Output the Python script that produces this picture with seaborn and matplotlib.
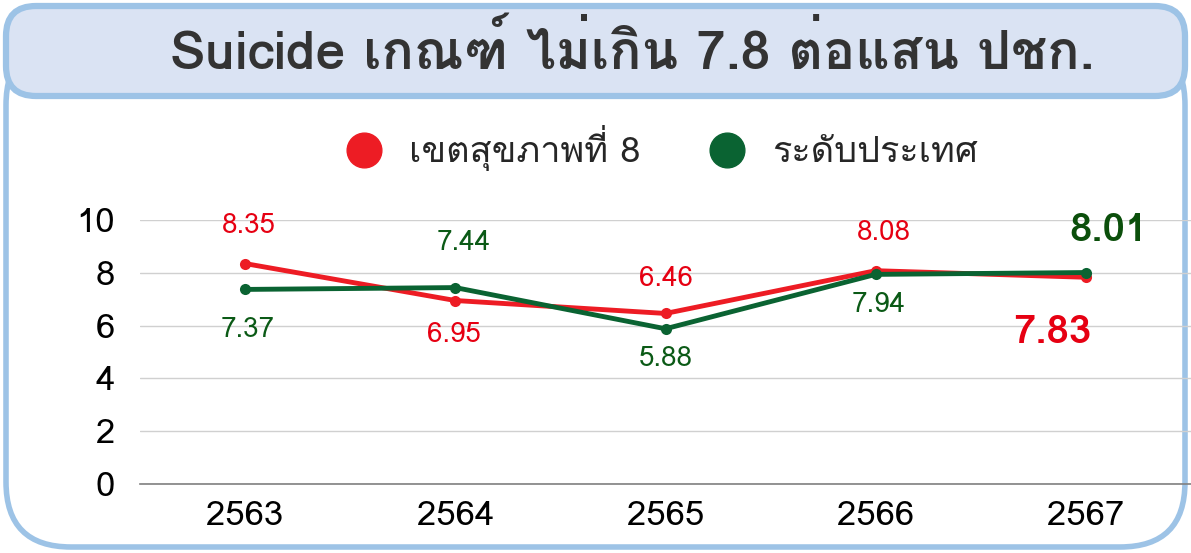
import pandas as pd
import numpy as np
import matplotlib
matplotlib.use("Agg")
import matplotlib.pyplot as plt
import seaborn as sns
from matplotlib import font_manager, ft2font
from matplotlib.patches import FancyBboxPatch
from matplotlib.lines import Line2D

years = ["2563", "2564", "2565", "2566", "2567"]
region8 = [8.35, 6.95, 6.46, 8.08, 7.83]
national = [7.37, 7.44, 5.88, 7.94, 8.01]
series_names = ["เขตสุขภาพที่ 8", "ระดับประเทศ"]
title_text = "Suicide เกณฑ์ ไม่เกิน 7.8 ต่อแสน ปชก."

RED = "#ED1C24"
GREEN = "#0A6332"
RED_TXT = "#E60012"
GREEN_TXT = "#0B5A16"


def find_thai_family():
    for f in font_manager.fontManager.ttflist:
        try:
            if 0x0E01 in ft2font.FT2Font(f.fname).get_charmap():
                return f.name
        except Exception:
            pass
    return None


sns.set_theme(style="white")
thai = find_thai_family()
families = ([thai] if thai else []) + ["DejaVu Sans"]
plt.rcParams["font.family"] = families

df = pd.DataFrame({
    "year": years * 2,
    "rate": region8 + national,
    "group": [series_names[0]] * 5 + [series_names[1]] * 5,
})

fig = plt.figure(figsize=(11.91, 5.53), dpi=100)

# background panels drawn in pixel coordinates
bg = fig.add_axes([0, 0, 1, 1], zorder=0)
bg.set_xlim(0, 1191)
bg.set_ylim(553, 0)
bg.axis("off")
bg.add_patch(FancyBboxPatch((6, 40), 1179, 507,
                            boxstyle="round,pad=0,rounding_size=65",
                            facecolor="white", edgecolor="#9DC3E6", lw=4))
bg.add_patch(FancyBboxPatch((6, 6), 1179, 90,
                            boxstyle="round,pad=0,rounding_size=30",
                            facecolor="#DAE3F3", edgecolor="#9DC3E6", lw=4.5))
bg.text(632, 52, title_text, ha="center", va="center", fontsize=38.5,
        fontweight="bold", color="#333333")

ax = fig.add_axes([140 / 1191, 1 - 484 / 553, 1 - 140 / 1191, (484 - 220) / 553], zorder=1)
ax.patch.set_alpha(0)
sns.lineplot(data=df, x="year", y="rate", hue="group",
             palette={series_names[0]: RED, series_names[1]: GREEN},
             marker="o", markersize=8, markeredgewidth=0, linewidth=3.5,
             legend=False, sort=False, ax=ax)

ax.set_xlim(-0.5, 4.5)
ax.set_ylim(0, 10)
ax.set_yticks(range(0, 11, 2))
ax.yaxis.grid(True, color="#D0D0D0", lw=1)
ax.set_axisbelow(True)
for s in ["left", "right", "top"]:
    ax.spines[s].set_visible(False)
ax.spines["bottom"].set_color("#808080")
ax.spines["bottom"].set_linewidth(1.2)
ax.tick_params(axis="both", length=0, labelsize=25, colors="black")
ax.tick_params(axis="y", pad=18)
ax.tick_params(axis="x", pad=12)
ax.set_xlabel("")
ax.set_ylabel("")

# data labels
reg_off = [(3, 27), (-1, -25), (0, 25), (6, 27), (-24, -40)]
nat_off = [(2, -29), (6, 32), (0, -22), (2, -22), (16, 30)]
for i, (v, off) in enumerate(zip(region8, reg_off)):
    last = i == len(years) - 1
    ax.annotate(f"{v:.2f}", (i, v), xytext=off, textcoords="offset points",
                ha="center", va="center", color=RED_TXT,
                fontsize=29 if last else 20,
                fontweight="bold" if last else "normal", annotation_clip=False)
for i, (v, off) in enumerate(zip(national, nat_off)):
    last = i == len(years) - 1
    ax.annotate(f"{v:.2f}", (i, v), xytext=off, textcoords="offset points",
                ha="center", va="center",
                color="#0B4F0B" if last else GREEN_TXT,
                fontsize=29 if last else 20,
                fontweight="bold" if last else "normal", annotation_clip=False)

handles = [Line2D([], [], marker="o", linestyle="", markersize=25, color=c)
           for c in (RED, GREEN)]
fig.legend(handles, series_names, loc="center", bbox_to_anchor=(0.548, 0.732),
           ncol=2, frameon=False, fontsize=26, handletextpad=0.25,
           columnspacing=1.4)

fig.savefig("out.png", dpi=100)
